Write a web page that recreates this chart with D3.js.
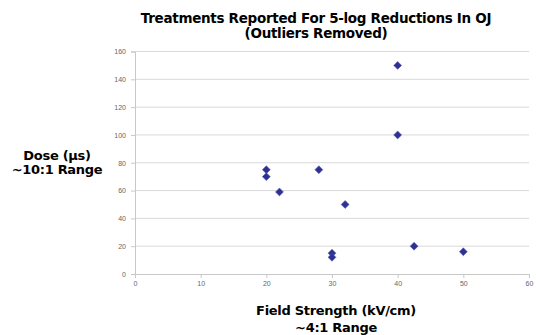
<!DOCTYPE html>
<html><head><meta charset="utf-8">
<script src="https://cdn.jsdelivr.net/npm/d3@7"></script>
<style>
body{margin:0;background:#fff;}
svg{display:block;}
</style></head>
<body>
<svg id="c" width="536" height="335"></svg>
<script>
const fieldStrength = [20, 20, 22, 28, 32, 30, 30, 40, 40, 42.5, 50];
const dose = [75, 70, 59, 75, 50, 15, 12, 150, 100, 20, 16];
const xTicks = [0, 10, 20, 30, 40, 50, 60];
const yTicks = [0, 20, 40, 60, 80, 100, 120, 140, 160];
const titleLines = ["Treatments Reported For 5-log Reductions In OJ", "(Outliers Removed)"];
const yLabelLines = ["Dose (\u00b5s)", "~10:1 Range"];
const xLabelLines = ["Field Strength (kV/cm)", "~4:1 Range"];

const svg = d3.select("#c");
const x = d3.scaleLinear().domain([0, 60]).range([135, 529]);
const y = d3.scaleLinear().domain([0, 160]).range([274, 51.5]);

// gridlines
svg.append("g").selectAll("line").data(yTicks.filter(d => d > 0)).join("line")
  .attr("x1", x(0)).attr("x2", x(60))
  .attr("y1", d => y(d)).attr("y2", d => y(d))
  .attr("stroke", "#d9d9d9").attr("stroke-width", 1);

const yAxis = svg.append("g").attr("transform", `translate(${x(0)},0)`)
  .call(d3.axisLeft(y).tickValues(yTicks).tickSize(4).tickPadding(5));
const xAxis = svg.append("g").attr("transform", `translate(0,${y(0)})`)
  .call(d3.axisBottom(x).tickValues(xTicks).tickSize(4).tickPadding(3));
[yAxis, xAxis].forEach(a => {
  a.selectAll("path,line").attr("stroke", "#c8c8c8");
  a.selectAll("text").attr("fill", "#666").style("font-family", "Liberation Sans, Arial, sans-serif").style("font-size", "7px");
});

// points
const pts = fieldStrength.map((v, i) => [v, dose[i]]);
svg.append("g").selectAll("path").data(pts).join("path")
  .attr("d", d3.symbol(d3.symbolDiamond2, 40))
  .attr("transform", d => `translate(${x(d[0])},${y(d[1])})`)
  .attr("fill", "#2e3192").attr("stroke", "#5a5fb0").attr("stroke-width", 0.6);

const bold = sel => sel.style("font-family", "DejaVu Sans, sans-serif")
  .style("font-weight", "bold").attr("fill", "#000").attr("text-anchor", "middle");

svg.append("g").selectAll("text").data(titleLines).join("text")
  .attr("x", 316).attr("y", (d, i) => 23 + i * 14.5).text(d => d)
  .call(bold).style("font-size", "13.5px").style("letter-spacing", "-0.3px");

svg.append("g").selectAll("text").data(yLabelLines).join("text")
  .attr("x", 57).attr("y", (d, i) => 160 + i * 13.5).text(d => d)
  .call(bold).style("font-size", "13px").style("letter-spacing", "-0.3px");

svg.append("g").selectAll("text").data(xLabelLines).join("text")
  .attr("x", 336).attr("y", (d, i) => 315 + i * 17).text(d => d)
  .call(bold).style("font-size", "13px").style("letter-spacing", "-0.3px");
</script>
</body></html>
